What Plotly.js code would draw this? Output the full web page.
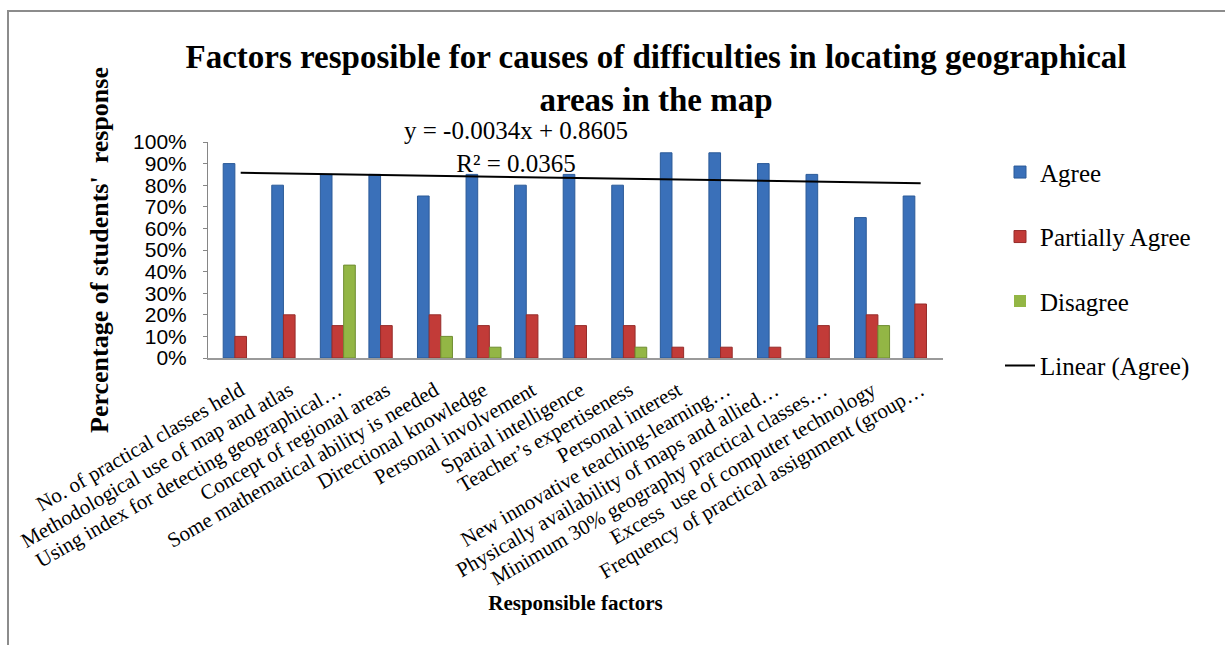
<!DOCTYPE html>
<html>
<head>
<meta charset="utf-8">
<script src="https://cdn.plot.ly/plotly-3.0.1.min.js"></script>
<style>
  html, body { margin: 0; padding: 0; background: #fff; overflow: hidden; }
  #chart { position: absolute; left: 0; top: 0; width: 1225px; height: 645px; }
  #frame { position: absolute; left: 7px; top: 10px; width: 1400px; height: 900px;
           border-left: 2px solid #8c8c8c; border-top: 2px solid #8c8c8c; pointer-events: none; }
</style>
</head>
<body>
<div id="chart"></div>
<div id="frame"></div>
<script>
const categories = [
  "No. of practical classes held",
  "Methodological use of map and atlas",
  "Using index for detecting geographical…",
  "Concept of regional areas",
  "Some mathematical ability is needed",
  "Directional knowledge",
  "Personal involvement",
  "Spatial intelligence",
  "Teacher’s expertiseness",
  "Personal interest",
  "New innovative teaching-learning…",
  "Physically availability of maps and allied…",
  "Minimum 30% geography practical classes…",
  "Excess  use of computer technology",
  "Frequency of practical assignment (group…"
];
const agree          = [0.90, 0.80, 0.85, 0.85, 0.75, 0.85, 0.80, 0.85, 0.80, 0.95, 0.95, 0.90, 0.85, 0.65, 0.75];
const partiallyAgree = [0.10, 0.20, 0.15, 0.15, 0.20, 0.15, 0.20, 0.15, 0.15, 0.05, 0.05, 0.05, 0.15, 0.20, 0.25];
const disagree       = [0.00, 0.00, 0.43, 0.00, 0.10, 0.05, 0.00, 0.00, 0.05, 0.00, 0.00, 0.00, 0.00, 0.15, 0.00];
const seriesNames = ["Agree", "Partially Agree", "Disagree", "Linear (Agree)"];
const yTickVals = [0, 0.1, 0.2, 0.3, 0.4, 0.5, 0.6, 0.7, 0.8, 0.9, 1.0];

// Linear trend of the Agree series (x = 1..n), as in the spreadsheet trendline
const n = agree.length;
const xs = agree.map((_, i) => i + 1);
const mx = xs.reduce((a, b) => a + b, 0) / n;
const my = agree.reduce((a, b) => a + b, 0) / n;
let sxy = 0, sxx = 0, syy = 0;
for (let i = 0; i < n; i++) {
  sxy += (xs[i] - mx) * (agree[i] - my);
  sxx += (xs[i] - mx) ** 2;
  syy += (agree[i] - my) ** 2;
}
const slope = sxy / sxx;
const intercept = my - slope * mx;
const r2 = (sxy * sxy) / (sxx * syy);
const trend = xs.map(x => intercept + slope * x);

const serif = "Liberation Serif";
const sans = "Liberation Sans";
// outline only on bars that have height (an empty bar draws nothing, as in the original)
const edge = arr => arr.map(v => (v > 0 ? 1 : 0));

const traces = [
  { type: 'bar', name: seriesNames[0], x: categories, y: agree, legendgroup: 'a',
    marker: { color: '#3a70b9', line: { width: edge(agree), color: '#2b5a98' } } },
  { type: 'bar', name: seriesNames[1], x: categories, y: partiallyAgree, legendgroup: 'b',
    marker: { color: '#c23b38', line: { width: edge(partiallyAgree), color: '#962c2a' } } },
  { type: 'bar', name: seriesNames[2], x: categories, y: disagree, legendgroup: 'c',
    marker: { color: '#93b645', line: { width: edge(disagree), color: '#6f8d31' } } },
  { type: 'scatter', mode: 'lines', name: seriesNames[3], x: categories, y: trend, legendgroup: 'd',
    line: { color: '#000', width: 2 } }
];

const fmt = v => (v < 0 ? '-' : '') + Math.abs(v).toFixed(4);
const eqText = 'y = ' + fmt(slope) + 'x ' + (intercept < 0 ? '- ' : '+ ') + Math.abs(intercept).toFixed(4) +
               '<br>R² = ' + r2.toFixed(4);

const layout = {
  width: 1225, height: 645,
  margin: { l: 208, r: 282, t: 142, b: 287, autoexpand: false },
  paper_bgcolor: '#fff', plot_bgcolor: '#fff',
  font: { family: serif, color: '#000' },
  barmode: 'group', bargap: 0.28, bargroupgap: 0,
  showlegend: true,
  title: {
    text: 'Factors resposible for causes of difficulties in locating geographical<br>areas in the map',
    font: { family: serif, size: 33, color: '#000', weight: 'bold' },
    xref: 'container', x: 656 / 1225, xanchor: 'center',
    yref: 'container', y: 1 - 68 / 645, yanchor: 'top'
  },
  xaxis: {
    type: 'category', range: [-0.673, 14.46],
    showline: true, linecolor: '#9a9a9a', linewidth: 2,
    ticks: '', showgrid: false, zeroline: false,
    tickangle: -30, ticklabelstandoff: 10,
    tickfont: { family: serif, size: 21, color: '#000' },
    title: { text: 'Responsible factors', font: { family: serif, size: 21, color: '#000', weight: 'bold' }, standoff: 6 },
    automargin: false
  },
  yaxis: {
    range: [0, 1], tickvals: yTickVals, tickformat: '.0%',
    showline: true, linecolor: '#868686', linewidth: 1,
    ticks: 'outside', ticklen: 4, tickcolor: '#868686', tickwidth: 1,
    showgrid: false, zeroline: false, ticklabelstandoff: 12,
    tickfont: { family: sans, size: 21, color: '#000' },
    title: { text: "Percentage of students'  response", font: { family: serif, size: 26, color: '#000', weight: 'bold' }, standoff: 16 },
    automargin: false
  },
  legend: {
    x: (1000 - 208) / 735, xref: 'paper', xanchor: 'left',
    y: (357.7 - 149) / 216, yanchor: 'top',
    font: { family: serif, size: 25, color: '#000' },
    tracegroupgap: 29, bgcolor: 'rgba(0,0,0,0)', maxheight: 600
  },
  annotations: [{
    text: eqText, showarrow: false,
    xref: 'paper', x: (516 - 208) / 735, xanchor: 'center',
    yref: 'paper', y: (357.7 - 147) / 216, yanchor: 'middle',
    align: 'center',
    font: { family: serif, size: 25, color: '#000' }
  }]
};

Plotly.newPlot('chart', traces, layout, { displayModeBar: false, staticPlot: true });
</script>
</body>
</html>
